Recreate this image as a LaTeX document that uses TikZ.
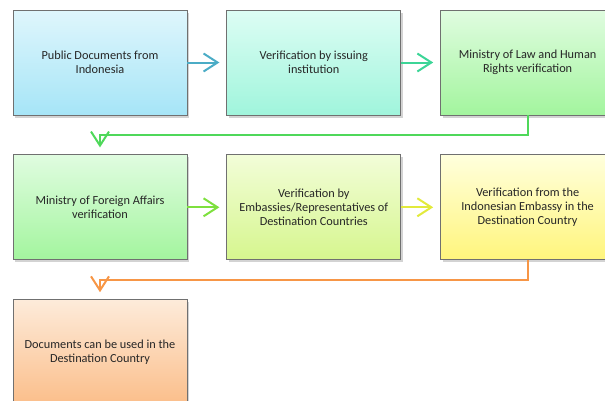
\documentclass[tikz,border=0pt]{standalone}
\usepackage{fontspec}
\setmainfont{Carlito}
\usetikzlibrary{positioning,shadows,arrows.meta}
\hyphenpenalty=10000
\exhyphenpenalty=10000

\definecolor{boxline}{HTML}{707070}
\definecolor{cAtop}{HTML}{DFF6FC}\definecolor{cAbot}{HTML}{A6E5F7}
\definecolor{cBtop}{HTML}{DDFDF4}\definecolor{cBbot}{HTML}{A0F5DC}
\definecolor{cCtop}{HTML}{E0FCE0}\definecolor{cCbot}{HTML}{A3F59E}
\definecolor{cDtop}{HTML}{F2FDD8}\definecolor{cDbot}{HTML}{D6F68E}
\definecolor{cEtop}{HTML}{FFFFDD}\definecolor{cEbot}{HTML}{FFF57C}
\definecolor{cFtop}{HTML}{FDEBDA}\definecolor{cFbot}{HTML}{FBBE8A}
\definecolor{arA}{HTML}{4BACC6}
\definecolor{arB}{HTML}{3CD597}
\definecolor{arC}{HTML}{4FD85A}
\definecolor{arD}{HTML}{7EE03E}
\definecolor{arE}{HTML}{E2EA3C}
\definecolor{arF}{HTML}{F79646}

\tikzset{
  stepbox/.style={draw=boxline, line width=0.8pt, minimum width=174pt,
    minimum height=105pt, text width=158pt, align=flush center,
    font=\fontsize{12.3}{14.3}\selectfont, text=black!85,
    drop shadow={shadow xshift=2pt, shadow yshift=-2.5pt, opacity=0.35}},
  flow/.style={line width=2pt, shorten >=7pt,
    -{Straight Barb[length=14pt, width=18pt, line width=2pt]}},
}

\begin{document}
\begin{tikzpicture}[x=1pt, y=1pt]
    \useasboundingbox (0,0) rectangle (605,-400);
    % first row
    \node (public) [stepbox, top color=cAtop, bottom color=cAbot]
      at (100,-62.5) {Public Documents from Indonesia};
    \node (issuing) [stepbox, top color=cBtop, bottom color=cBbot,
      right=39pt of public] {Verification by issuing institution};
    \node (lawhuman) [stepbox, top color=cCtop, bottom color=cCbot,
      right=39pt of issuing] {Ministry of Law and Human Rights verification};
    % second row
    \node (foreign) [stepbox, top color=cCtop, bottom color=cCbot,
      below=39pt of public] {Ministry of Foreign Affairs verification};
    \node (embassies) [stepbox, top color=cDtop, bottom color=cDbot,
      right=39pt of foreign]
      {Verification by Embassies/Representatives of Destination Countries};
    \node (indoembassy) [stepbox, top color=cEtop, bottom color=cEbot,
      right=39pt of embassies]
      {Verification from the Indonesian Embassy in the Destination Country};
    % third row
    \node (usable) [stepbox, top color=cFtop, bottom color=cFbot,
      below=39pt of foreign] {Documents can be used in the Destination Country};

    \draw[flow, arA] (public) -- (issuing);
    \draw[flow, arB] (issuing) -- (lawhuman);
    \draw[flow, arC] (lawhuman.south) -- ++(0,-19.5) -| (foreign.north);
    \draw[flow, arD] (foreign) -- (embassies);
    \draw[flow, arE] (embassies) -- (indoembassy);
    \draw[flow, arF] (indoembassy.south) -- ++(0,-19.5) -| (usable.north);
  \end{tikzpicture}
\end{document}
